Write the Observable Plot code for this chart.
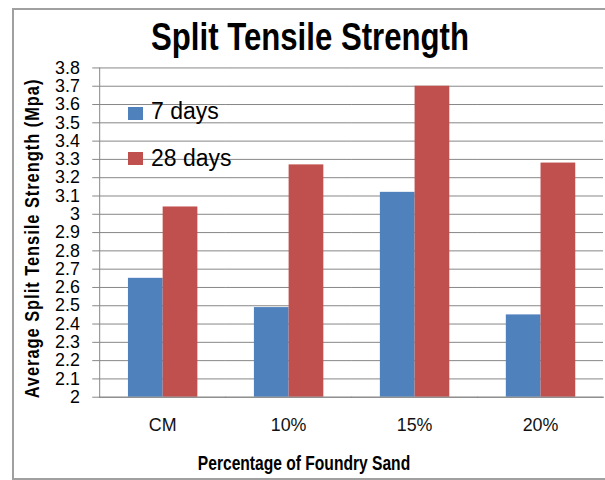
<!DOCTYPE html>
<html>
<head>
<meta charset="utf-8">
<script src="https://cdn.jsdelivr.net/npm/d3@7"></script>
<script src="https://cdn.jsdelivr.net/npm/@observablehq/plot@0.6"></script>
<style>
  html, body { margin: 0; padding: 0; background: #fff; }
  #wrap { position: relative; width: 605px; height: 480px; overflow: hidden; background: #fff; }
  #border { position: absolute; left: 12px; top: 8px; width: 700px; height: 468px; border: 2px solid #a0a0a0; box-sizing: content-box; }
  #chart { position: absolute; left: 0; top: 0; }
  .narrowbold { font-family: "Liberation Sans", Arial, sans-serif; font-weight: bold; color: #000; white-space: nowrap; }
  #title { position: absolute; left: 0; width: 620px; top: 18px; text-align: center; font-size: 38px; line-height: 38px; transform: scaleX(0.82); transform-origin: 50% 50%; }
  #xlabel { position: absolute; left: 103.5px; width: 400px; top: 453px; text-align: center; font-size: 20px; line-height: 20px; transform: scaleX(0.78); transform-origin: 50% 50%; }
  #ylabel { position: absolute; left: -168px; top: 227.5px; width: 400px; height: 21px; text-align: center; font-size: 20px; line-height: 21px; letter-spacing: 1.2px; transform: rotate(-90deg) scaleX(0.82); transform-origin: 50% 50%; }
  .leg { position: absolute; font-family: "Liberation Sans", Arial, sans-serif; font-size: 23px; line-height: 23px; color: #000; white-space: nowrap; }
  .sw { position: absolute; width: 15px; height: 13px; }
</style>
</head>
<body>
<div id="wrap">
  <div id="border"></div>
  <div id="chart"></div>
  <div id="title" class="narrowbold">Split Tensile Strength</div>
  <div id="xlabel" class="narrowbold">Percentage of Foundry Sand</div>
  <div id="ylabel" class="narrowbold">Average Split Tensile Strength (Mpa)</div>
  <div id="legend"></div>
</div>
<script>
const categories = ["CM", "10%", "15%", "20%"];
const series = ["7 days", "28 days"];
const colors = ["#4F81BD", "#C0504D"];
const days7 = [2.65, 2.49, 3.12, 2.45];
const days28 = [3.04, 3.27, 3.70, 3.28];
const yTicks = [2, 2.1, 2.2, 2.3, 2.4, 2.5, 2.6, 2.7, 2.8, 2.9, 3, 3.1, 3.2, 3.3, 3.4, 3.5, 3.6, 3.7, 3.8];

const data = categories.flatMap((c, i) => [
  {cat: c, s: series[0], v: days7[i]},
  {cat: c, s: series[1], v: days28[i]}
]);

const chart = Plot.plot({
  width: 610,
  height: 480,
  marginLeft: 100,
  marginRight: 2,
  marginTop: 68,
  marginBottom: 80,
  fx: {domain: categories, padding: 0, label: null, axis: null},
  x: {domain: series, paddingInner: 0, paddingOuter: 0.764, axis: null},
  y: {domain: [2, 3.8], label: null, axis: null},
  color: {domain: series, range: colors},
  style: {fontFamily: "Liberation Sans, Arial, sans-serif", fontSize: "18px", color: "#000", background: "transparent"},
  marks: [
    Plot.gridY(yTicks, {stroke: "#868686", strokeOpacity: 1, strokeWidth: 1}),
    Plot.barY(data, {fx: "cat", x: "s", y1: 2, y2: "v", fill: "s"}),
    Plot.axisY(yTicks, {tickSize: 7, tickPadding: 13, label: null, stroke: "#868686", strokeOpacity: 1, fill: "#000", tickFormat: d => String(+d.toFixed(1))}),
    Plot.axisFx({anchor: "bottom", tickSize: 0, tickPadding: 21, label: null, fill: "#111"}),
    Plot.frame({anchor: "left", facetAnchor: "left", stroke: "#868686", strokeOpacity: 1}),
    Plot.frame({anchor: "bottom", stroke: "#868686", strokeOpacity: 1})
  ]
});
document.getElementById("chart").appendChild(chart);

const legend = document.getElementById("legend");
const legTops = [107, 152];
const textTops = [99.5, 146.5];
series.forEach((s, i) => {
  const sw = document.createElement("div");
  sw.className = "sw";
  sw.style.left = "128px";
  sw.style.top = legTops[i] + "px";
  sw.style.background = colors[i];
  legend.appendChild(sw);
  const t = document.createElement("div");
  t.className = "leg";
  t.style.left = "151px";
  t.style.top = textTops[i] + "px";
  t.textContent = s;
  legend.appendChild(t);
});
</script>
</body>
</html>
